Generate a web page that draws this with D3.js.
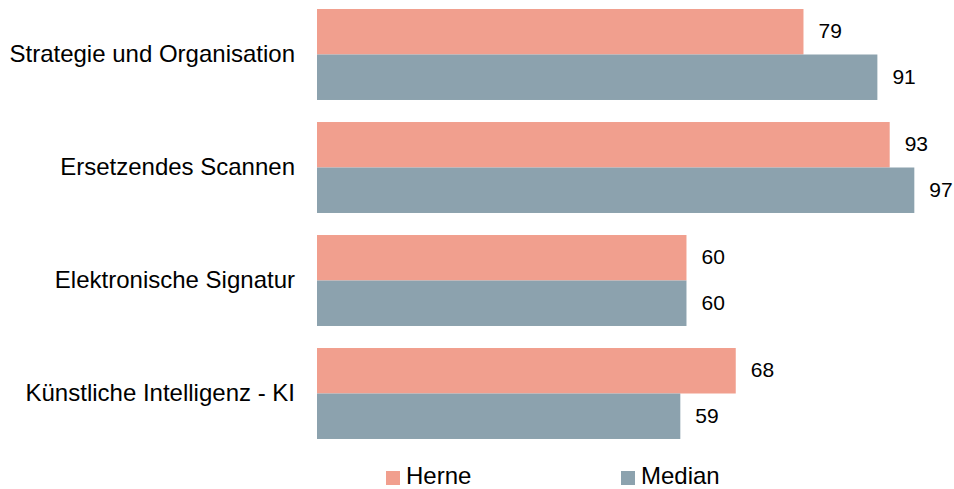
<!DOCTYPE html>
<html>
<head>
<meta charset="utf-8">
<script src="https://cdn.jsdelivr.net/npm/d3@7"></script>
<style>
  body { margin: 0; background: #fff; }
  text { font-family: "Liberation Sans", Arial, sans-serif; fill: #000; }
</style>
</head>
<body>
<svg width="954" height="489"></svg>
<script>
// data
var categories = ["Strategie und Organisation", "Ersetzendes Scannen", "Elektronische Signatur", "Künstliche Intelligenz - KI"];
var series = ["Herne", "Median"];
var herne = [79, 93, 60, 68];
var median = [91, 97, 60, 59];
var colors = ["#f19f8e", "#8ca2ae"];

var svg = d3.select("svg"),
    width = +svg.attr("width"),
    height = +svg.attr("height");

var rows = categories.map(function(c, i) {
  return { cat: c, values: [{ key: "Herne", value: herne[i] }, { key: "Median", value: median[i] }] };
});

var x = d3.scaleLinear()
    .domain([0, 100])
    .range([317, 932.8]);

var y0 = d3.scaleBand()
    .domain(categories)
    .range([-2, 450])
    .paddingInner(0.195)
    .paddingOuter(0.0975);

var y1 = d3.scaleBand()
    .domain(series)
    .range([0, y0.bandwidth()]);

var z = d3.scaleOrdinal().domain(series).range(colors);

var groups = svg.append("g")
  .selectAll("g")
  .data(rows)
  .enter().append("g")
    .attr("transform", function(d) { return "translate(0," + y0(d.cat) + ")"; });

groups.selectAll("rect")
  .data(function(d) { return d.values; })
  .enter().append("rect")
    .attr("x", x(0))
    .attr("y", function(d) { return y1(d.key); })
    .attr("width", function(d) { return x(d.value) - x(0); })
    .attr("height", y1.bandwidth())
    .attr("fill", function(d) { return z(d.key); });

groups.selectAll(".label")
  .data(function(d) { return d.values; })
  .enter().append("text")
    .attr("class", "label")
    .attr("x", function(d) { return x(d.value) + 15; })
    .attr("y", function(d) { return y1(d.key) + y1.bandwidth() / 2 + 6.5; })
    .style("font-size", "21px")
    .text(function(d) { return d.value; });

// category axis, no line or ticks
svg.append("g")
  .selectAll("text")
  .data(categories)
  .enter().append("text")
    .attr("x", 295)
    .attr("y", function(d) { return y0(d) + y0.bandwidth() / 2 + 7.5; })
    .attr("text-anchor", "end")
    .style("font-size", "24px")
    .text(function(d) { return d; });

// legend
var legendX = [386, 621];
var legend = svg.append("g")
  .selectAll("g")
  .data(series)
  .enter().append("g")
    .attr("transform", function(d, i) { return "translate(" + legendX[i] + ",471)"; });

legend.append("rect")
    .attr("width", 14)
    .attr("height", 14)
    .attr("fill", function(d) { return z(d); });

legend.append("text")
    .attr("x", 20)
    .attr("y", 13)
    .style("font-size", "24px")
    .text(function(d) { return d; });
</script>
</body>
</html>
